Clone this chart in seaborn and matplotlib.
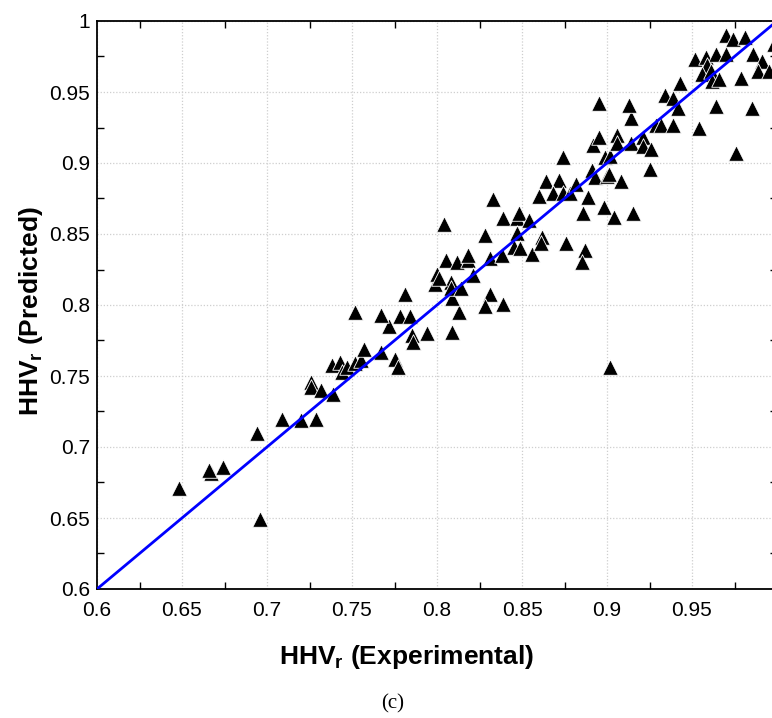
import matplotlib
matplotlib.use("Agg")
import matplotlib.pyplot as plt
from matplotlib.ticker import MultipleLocator, FuncFormatter
import seaborn as sns
import pandas as pd

# Relative higher heating value: experimental vs. model prediction
hhv_experimental = [
    0.648, 0.667, 0.666, 0.674, 0.696, 0.694, 0.709, 0.720, 0.729, 0.726,
    0.726, 0.732, 0.739, 0.738, 0.743, 0.744, 0.747, 0.752, 0.755, 0.757,
    0.767, 0.775, 0.777, 0.772, 0.752, 0.767, 0.778, 0.784, 0.781, 0.785,
    0.786, 0.794, 0.809, 0.813, 0.809, 0.799, 0.800, 0.805, 0.804, 0.808,
    0.808, 0.812, 0.814, 0.818, 0.818, 0.821, 0.828, 0.831, 0.838, 0.831,
    0.828, 0.839, 0.833, 0.839, 0.847, 0.848, 0.854, 0.847, 0.845, 0.849,
    0.856, 0.862, 0.861, 0.876, 0.887, 0.885, 0.874, 0.864, 0.860, 0.872,
    0.868, 0.874, 0.878, 0.882, 0.889, 0.886, 0.898, 0.904, 0.915, 0.908,
    0.891, 0.893, 0.900, 0.901, 0.899, 0.902, 0.892, 0.895, 0.895, 0.906,
    0.906, 0.914, 0.913, 0.914, 0.921, 0.921, 0.926, 0.925, 0.929, 0.932,
    0.939, 0.954, 0.976, 0.934, 0.939, 0.942, 0.943, 0.964, 0.985, 0.952,
    0.958, 0.964, 0.970, 0.959, 0.956, 0.961, 0.962, 0.966, 0.979, 0.970,
    0.974, 0.981, 0.986, 0.991, 0.989, 0.995, 0.998, 0.902, 0.801,
]
hhv_predicted = [
    0.671, 0.682, 0.684, 0.686, 0.649, 0.710, 0.720, 0.719, 0.720, 0.746,
    0.742, 0.740, 0.737, 0.758, 0.760, 0.753, 0.756, 0.759, 0.761, 0.769,
    0.767, 0.762, 0.756, 0.785, 0.795, 0.793, 0.792, 0.792, 0.808, 0.779,
    0.774, 0.780, 0.781, 0.795, 0.805, 0.815, 0.822, 0.832, 0.857, 0.816,
    0.812, 0.830, 0.812, 0.832, 0.835, 0.821, 0.849, 0.833, 0.835, 0.808,
    0.799, 0.801, 0.875, 0.861, 0.861, 0.865, 0.860, 0.851, 0.841, 0.840,
    0.836, 0.848, 0.844, 0.844, 0.839, 0.830, 0.904, 0.887, 0.877, 0.888,
    0.879, 0.879, 0.879, 0.885, 0.876, 0.865, 0.869, 0.862, 0.865, 0.887,
    0.895, 0.890, 0.891, 0.892, 0.904, 0.905, 0.913, 0.918, 0.942, 0.920,
    0.914, 0.932, 0.941, 0.914, 0.918, 0.912, 0.910, 0.896, 0.927, 0.927,
    0.927, 0.925, 0.907, 0.948, 0.946, 0.939, 0.956, 0.940, 0.939, 0.973,
    0.975, 0.977, 0.977, 0.969, 0.963, 0.965, 0.958, 0.959, 0.960, 0.990,
    0.987, 0.989, 0.977, 0.972, 0.965, 0.965, 0.984, 0.756, 0.819,
]

# 1:1 reference line
ideal_x = [0.6, 1.0]
ideal_y = [0.6, 1.0]

axis_min, axis_max = 0.6, 1.0
major_step = 0.05

x_label = r"HHV$_{\mathbf{r}}$ (Experimental)"
y_label = r"HHV$_{\mathbf{r}}$ (Predicted)"
panel_tag = "(c)"

sns.set_style("white")
plt.rcParams["font.family"] = ["Liberation Sans", "DejaVu Sans"]
plt.rcParams["mathtext.fontset"] = "custom"
plt.rcParams["mathtext.rm"] = "Liberation Sans"
plt.rcParams["mathtext.bf"] = "Liberation Sans:bold"
plt.rcParams["text.color"] = "black"
plt.rcParams["axes.labelcolor"] = "black"
plt.rcParams["xtick.color"] = "black"
plt.rcParams["ytick.color"] = "black"

df = pd.DataFrame({"exp": hhv_experimental, "pred": hhv_predicted})
line_df = pd.DataFrame({"x": ideal_x, "y": ideal_y})

W, H = 772, 718
fig = plt.figure(figsize=(W / 100, H / 100), dpi=100)
ax = fig.add_axes([97 / W, (H - 589) / H, 680 / W, 568 / H])

sns.scatterplot(data=df, x="exp", y="pred", ax=ax, marker="^", s=125,
                color="black", edgecolor="white", linewidth=0.6, zorder=3,
                legend=False)
sns.lineplot(data=line_df, x="x", y="y", ax=ax, color="#0000ff",
             linewidth=2.0, zorder=4, legend=False)

ax.set_xlim(axis_min, axis_max)
ax.set_ylim(axis_min, axis_max)

for axis in (ax.xaxis, ax.yaxis):
    axis.set_major_locator(MultipleLocator(major_step))
    axis.set_minor_locator(MultipleLocator(major_step / 2))
    axis.set_major_formatter(FuncFormatter(lambda v, p: f"{v:.2f}".rstrip("0").rstrip(".")))

ax.tick_params(which="major", length=0, labelsize=15, pad=9,
               labelcolor="black")
ax.tick_params(axis="y", which="major", pad=5)
ax.tick_params(which="minor", direction="in", length=5, width=1.0,
               color="black", top=True, right=True, bottom=True, left=True)

ax.grid(True, which="major", linestyle=(0, (1, 1.5)), color="#cfcfcf",
        linewidth=0.9, zorder=0)
ax.set_axisbelow(True)

for sp in ax.spines.values():
    sp.set_color("black")
    sp.set_linewidth(1.3)

ax.set_xlabel(x_label, fontsize=19, fontweight="bold", color="black")
ax.set_ylabel(y_label, fontsize=19, fontweight="bold", color="black")
ax.xaxis.set_label_coords((407 - 97) / 680, (589 - 643) / 568)
ax.yaxis.set_label_coords((45 - 97) / 680, 0.49)

fig.text(393 / W, 1 - 704 / H, panel_tag, ha="center", va="center",
         fontsize=15, color="black",
         family=["Liberation Serif", "DejaVu Serif"])

fig.savefig("out.png", dpi=100)
